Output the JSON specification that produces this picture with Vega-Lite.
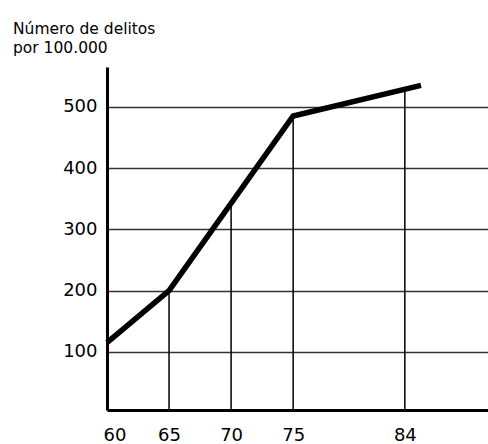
{
  "$schema": "https://vega.github.io/schema/vega-lite/v6.json",
  "width": 381,
  "height": 343,
  "autosize": {"type": "none"},
  "padding": {"left": 107, "top": 67, "right": 0, "bottom": 34},
  "background": "white",
  "config": {"view": {"stroke": null}, "font": "DejaVu Sans"},
  "title": {
    "text": ["Número de delitos", "por 100.000"],
    "anchor": "start",
    "frame": "group",
    "dx": -94,
    "fontSize": 15.5,
    "fontWeight": "normal",
    "font": "DejaVu Sans",
    "color": "black",
    "lineHeight": 19,
    "offset": 11
  },
  "datasets": {
    "serie": [
      {"anio": 60, "delitos": 115},
      {"anio": 65, "delitos": 200},
      {"anio": 75, "delitos": 485},
      {"anio": 85.3, "delitos": 535}
    ],
    "guias": [
      {"anio": 65, "delitos": 200},
      {"anio": 70, "delitos": 342},
      {"anio": 75, "delitos": 485},
      {"anio": 84, "delitos": 529}
    ]
  },
  "layer": [
    {
      "data": {"name": "guias"},
      "mark": {"type": "rule", "color": "black", "strokeWidth": 1.5},
      "encoding": {
        "x": {
          "field": "anio",
          "type": "quantitative",
          "scale": {"domain": [60, 90.7], "nice": false, "zero": false},
          "axis": {
            "values": [60, 65, 70, 75, 84],
            "grid": false,
            "ticks": false,
            "domainWidth": 3,
            "domainColor": "black",
            "labelFontSize": 18,
            "labelColor": "black",
            "labelPadding": 16,
            "labelFlush": true,
            "labelFlushOffset": 4,
            "title": null
          }
        },
        "y": {
          "field": "delitos",
          "type": "quantitative",
          "scale": {"domain": [5, 565], "nice": false, "zero": false},
          "axis": {
            "values": [100, 200, 300, 400, 500],
            "grid": true,
            "gridColor": "#333333",
            "gridWidth": 1.5,
            "ticks": false,
            "domainWidth": 3,
            "domainColor": "black",
            "labelFontSize": 18,
            "labelColor": "black",
            "labelPadding": 10,
            "title": null
          }
        },
        "y2": {"datum": 5}
      }
    },
    {
      "data": {"name": "serie"},
      "mark": {"type": "line", "color": "black", "strokeWidth": 5.5},
      "encoding": {
        "x": {"field": "anio", "type": "quantitative"},
        "y": {"field": "delitos", "type": "quantitative"}
      }
    }
  ]
}
